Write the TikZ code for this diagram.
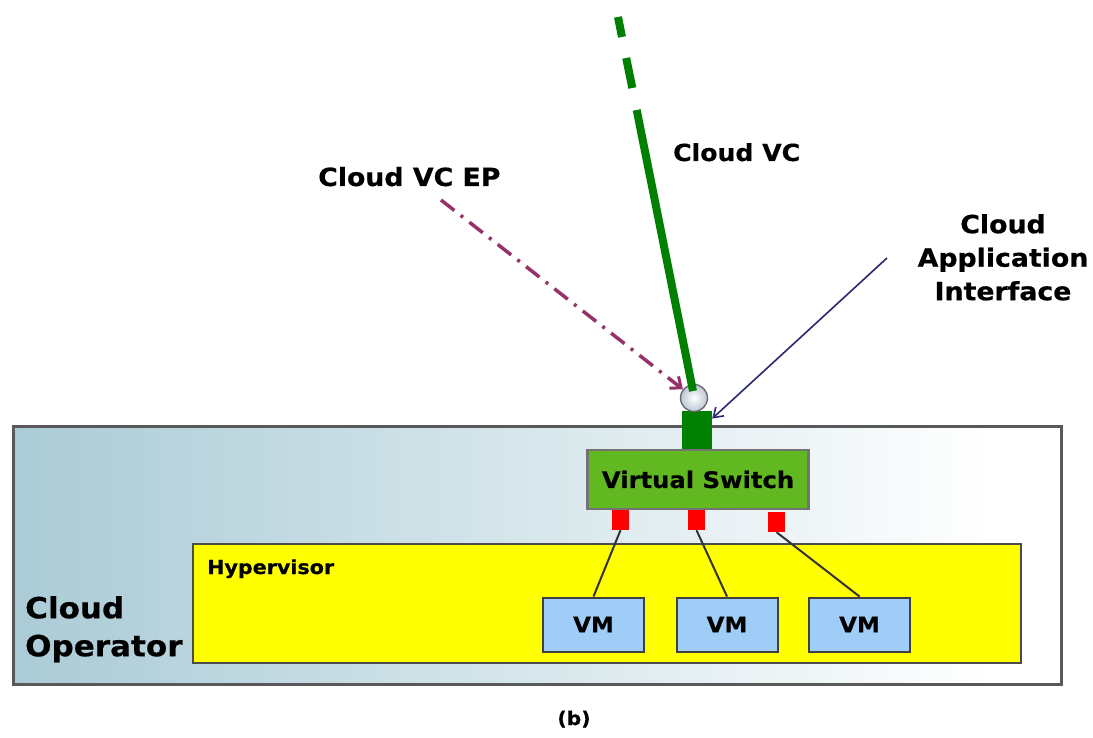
\documentclass[tikz,border=0pt]{standalone}
\usepackage{fontspec}
\setmainfont{DejaVu Sans}[FakeStretch=1.07, BoldFeatures={FakeBold=0.5}]
\usetikzlibrary{arrows.meta}
\definecolor{opblue}{RGB}{170,203,214}
\definecolor{opmid}{RGB}{200,222,229}
\definecolor{hvyellow}{RGB}{255,255,0}
\definecolor{vsgreen}{RGB}{98,184,32}
\definecolor{dkgreen}{RGB}{0,128,0}
\definecolor{vmblue}{RGB}{160,204,248}
\definecolor{eppurple}{RGB}{150,50,105}
\definecolor{apinavy}{RGB}{40,40,115}
\definecolor{ballgray}{RGB}{188,198,212}
\tikzset{
  lbl/.style={inner sep=0pt, font=\fontsize{25}{33.5}\selectfont\bfseries},
  frame/.style={draw=black!65, line width=2.5pt, minimum width=1048pt, minimum height=258pt, inner sep=0pt, anchor=north west},
  hvbox/.style={draw=black!70, line width=2pt, fill=hvyellow, minimum width=828pt, minimum height=119pt, inner sep=0pt, anchor=north west},
  vsbox/.style={draw=black!55, line width=2.5pt, fill=vsgreen, minimum width=221pt, minimum height=59pt, inner sep=0pt, font=\fontsize{22.7}{28}\selectfont\bfseries},
  upsq/.style={fill=dkgreen, minimum width=30pt, minimum height=38pt, inner sep=0pt},
  port/.style={fill=red, minimum width=17pt, minimum height=20pt, inner sep=0pt},
  vmbox/.style={draw=black!75, line width=2pt, fill=vmblue, minimum width=101pt, minimum height=54pt, inner sep=0pt, font=\fontsize{21.5}{28}\selectfont\bfseries},
  epball/.style={circle, draw=black!60, line width=1.3pt, inner color=white, outer color=ballgray, minimum size=27pt, inner sep=0pt},
  link/.style={draw=black!80, line width=2pt},
  vcline/.style={draw=dkgreen, line width=8pt},
  eparrow/.style={draw=eppurple, line width=3.5pt, dash pattern=on 17pt off 8pt on 3pt off 8pt, -{Straight Barb[length=9pt,width=15pt,line width=3pt]}},
  apiarrow/.style={draw=apinavy, line width=1.6pt, -{Straight Barb[length=9pt,width=12pt]}},
}
\begin{document}
\begin{tikzpicture}[x=1pt,y=-1pt]
\useasboundingbox (0,0) rectangle (1093,738);
% operator background
\shade[left color=opblue, middle color=opmid, right color=white] (12,425) rectangle (990,683);
\fill[white] (990,425) rectangle (1060,683);
\node[frame] (outer) at (12,425) {};
\node[lbl, font=\fontsize{29}{38}\selectfont\bfseries, align=left, anchor=north west] (op) at (25,596) {Cloud\\Operator};
% hypervisor
\node[hvbox] (hv) at (192,543) {};
\node[lbl, font=\fontsize{19.3}{24}\selectfont\bfseries, anchor=base west] (hvl) at (207,574) {Hypervisor};
% switch
\node[upsq] (gsq) at (697,430) {};
\node[vsbox] (vs) at (698,479.5) {Virtual Switch};
\node[port] (p1) at (620.5,520) {};
\node[port] (p2) at (696.5,520) {};
\node[port] (p3) at (776.5,522) {};
% VMs
\node[vmbox] (vm1) at (593.5,624.5) {VM};
\node[vmbox] (vm2) at (727,624.5) {VM};
\node[vmbox] (vm3) at (859.5,624.5) {VM};
\draw[link] (p1.south) -- (vm1.north);
\draw[link] (p2.south) -- (vm2.north);
\draw[link] (p3.south) -- (vm3.north);
% end point ball and cloud VC
\node[epball] (circ) at (694,398) {};
\coordinate (vcfoot) at (693,391);
\coordinate (solidtop) at (636.7,110);
\coordinate (d2e) at (632.3,88);
\coordinate (d2s) at (626.2,58);
\coordinate (d1e) at (622,37);
\coordinate (vctop) at (618,17);
\draw[vcline] (vcfoot) -- (solidtop);
\draw[vcline] (d2e) -- (d2s);
\draw[vcline] (d1e) -- (vctop);
% labels
\node[lbl, font=\fontsize{23.5}{30}\selectfont\bfseries, anchor=base west] (vcl) at (673,161) {Cloud VC};
\node[lbl, anchor=base west] (epl) at (318,186) {Cloud VC EP};
\node[lbl, align=center, anchor=north] (apil) at (1003,214) {Cloud\\Application\\Interface};
\node[lbl, font=\fontsize{19}{24}\selectfont\bfseries, anchor=base] (cap) at (574,725) {(b)};
% arrows
\coordinate (epstart) at (441,200);
\coordinate (apistart) at (887,258);
\draw[eparrow] (epstart) -- (circ);
\draw[apiarrow] (apistart) -- (gsq.37);
\end{tikzpicture}
\end{document}
